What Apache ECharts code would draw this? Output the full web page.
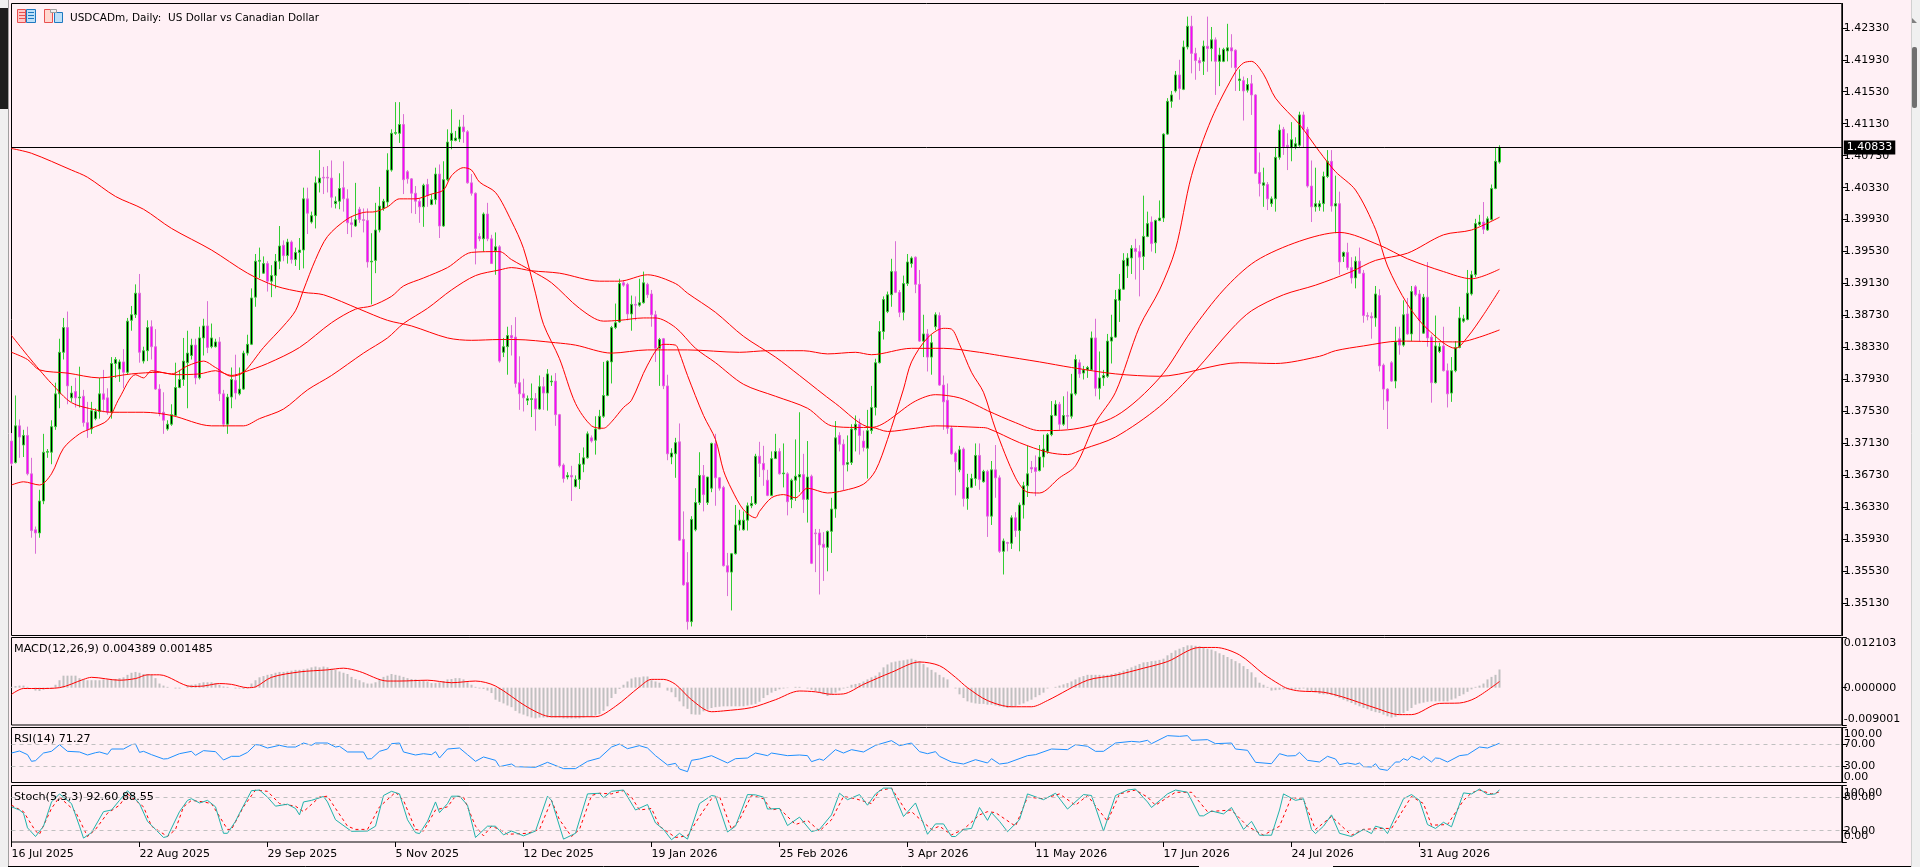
<!DOCTYPE html>
<html><head><meta charset="utf-8">
<style>html,body{margin:0;padding:0;background:#FFF0F5;overflow:hidden}#c{width:1920px;height:867px}</style>
<script src="https://cdn.jsdelivr.net/npm/echarts@6/dist/echarts.min.js"></script>
</head><body><div id="c"></div>
<script>
// Values. Prices are stored in units of 0.0001.
const dateLabels=['16 Jul 2025','22 Aug 2025','29 Sep 2025','5 Nov 2025','12 Dec 2025','19 Jan 2026','25 Feb 2026','3 Apr 2026','11 May 2026','17 Jun 2026','24 Jul 2026','31 Aug 2026'];
const priceTicks=[1.3513,1.3553,1.3593,1.3633,1.3673,1.3713,1.3753,1.3793,1.3833,1.3873,1.3913,1.3953,1.3993,1.4033,1.4073,1.4113,1.4153,1.4193,1.4233];
const macdTicks=[-0.009001,0,0.012103];
const rangeTicks=[0,100];
const rsiLevels=[30,70];
const stochLevels=[20,80];
const lastPrice=1.40833;
// open, close, low, high
const candles=[
[13716,13688,13685,13726],[13689,13735,13688,13773],[13735,13721,13695,13743],[13711,13723,13696,13730],[13723,13675,13673,13734],[13675,13604,13595,13695],[13605,13601,13575,13609],[13601,13641,13595,13655],[13641,13702,13637,13725],[13702,13703,13695,13706],
[13702,13734,13687,13742],[13734,13775,13730,13789],[13775,13827,13757,13844],[13827,13858,13818,13870],[13858,13785,13762,13878],[13770,13776,13765,13785],[13778,13770,13758,13795],[13770,13771,13758,13809],[13772,13739,13734,13780],[13739,13730,13720,13765],
[13731,13754,13725,13765],[13744,13753,13742,13757],[13753,13775,13744,13795],[13775,13768,13752,13805],[13770,13752,13749,13782],[13752,13813,13744,13821],[13813,13818,13795,13821],[13806,13815,13790,13818],[13815,13802,13782,13831],[13802,13866,13799,13870],
[13867,13874,13854,13885],[13874,13901,13870,13912],[13901,13827,13814,13925],[13816,13829,13813,13834],[13829,13858,13816,13867],[13859,13834,13818,13867],[13834,13781,13780,13856],[13781,13751,13747,13787],[13752,13742,13725,13777],[13731,13737,13729,13742],
[13737,13749,13735,13762],[13748,13783,13747,13814],[13783,13793,13782,13805],[13793,13816,13785,13845],[13814,13826,13757,13854],[13823,13836,13818,13844],[13836,13795,13787,13844],[13795,13845,13793,13859],[13845,13860,13823,13869],[13860,13833,13826,13891],
[13834,13845,13832,13863],[13834,13840,13833,13844],[13840,13775,13766,13846],[13775,13737,13734,13780],[13737,13771,13725,13775],[13771,13793,13757,13808],[13792,13776,13768,13824],[13775,13781,13773,13808],[13781,13826,13780,13829],[13826,13837,13823,13849],
[13837,13895,13836,13907],[13896,13941,13884,13950],[13941,13942,13920,13958],[13926,13938,13925,13947],[13938,13916,13903,13941],[13916,13923,13896,13936],[13923,13941,13907,13950],[13941,13960,13931,13985],[13961,13948,13941,13967],[13948,13965,13938,13969],
[13965,13943,13938,13967],[13943,13952,13935,13958],[13952,13955,13930,13970],[13955,14019,13932,14033],[14019,14001,13975,14033],[13990,13998,13988,14003],[13998,14039,13982,14047],[14039,14045,14027,14080],[14046,14045,14025,14059],[14046,14045,14027,14060],
[14045,14021,14008,14067],[14013,14016,14007,14022],[14016,14032,14006,14051],[14033,14019,14003,14066],[14019,13989,13975,14031],[13989,13987,13971,13997],[13985,13993,13984,14039],[14006,13993,13989,14009],[13993,13992,13977,14007],[13992,13940,13933,14007],
[13940,13941,13887,13976],[13942,13980,13926,14014],[13980,14010,13977,14034],[14007,14016,14004,14019],[14015,14055,14009,14076],[14055,14101,14053,14106],[14101,14102,14099,14140],[14101,14112,14089,14140],[14112,14043,14025,14125],[14053,14044,14038,14055],
[14044,14026,14001,14045],[14026,14016,14000,14035],[14016,14009,13989,14020],[14009,14036,13984,14038],[14037,14023,14009,14044],[14012,14018,14011,14025],[14018,14050,14012,14058],[14050,13985,13970,14062],[13985,14043,13984,14066],[14043,14090,14041,14106],
[14092,14101,14081,14131],[14092,14095,14091,14104],[14094,14109,14090,14118],[14109,14103,14089,14124],[14103,14039,14038,14105],[14039,14026,14023,14050],[14026,13957,13937,14027],[13972,13969,13966,13976],[13969,14000,13953,14002],[14000,13969,13966,14014],
[13969,13938,13938,13974],[13954,13959,13924,13977],[13959,13816,13814,13961],[13827,13834,13821,13845],[13834,13848,13799,13859],[13848,13845,13823,13861],[13846,13788,13783,13871],[13789,13775,13755,13822],[13775,13770,13753,13794],[13767,13769,13761,13773],
[13768,13769,13746,13788],[13769,13756,13729,13776],[13756,13784,13755,13798],[13784,13776,13755,13796],[13776,13800,13754,13806],[13790,13791,13785,13798],[13791,13749,13735,13801],[13749,13685,13683,13750],[13686,13669,13664,13688],[13671,13673,13668,13677],
[13673,13671,13641,13685],[13659,13668,13658,13673],[13668,13687,13656,13701],[13687,13695,13677,13708],[13695,13725,13694,13728],[13720,13716,13714,13723],[13717,13731,13699,13747],[13731,13747,13731,13755],[13747,13773,13745,13815],[13773,13816,13772,13817],
[13815,13858,13788,13860],[13858,13864,13856,13888],[13865,13913,13864,13919],[13914,13911,13909,13917],[13912,13875,13867,13914],[13875,13887,13854,13898],[13887,13886,13867,13897],[13886,13889,13884,13919],[13889,13914,13888,13928],[13912,13899,13895,13914],
[13900,13874,13859,13905],[13874,13832,13815,13879],[13832,13843,13785,13845],[13844,13785,13781,13845],[13785,13700,13692,13799],[13696,13701,13687,13707],[13700,13714,13670,13720],[13715,13592,13591,13738],[13593,13536,13535,13628],[13539,13490,13480,13577],
[13490,13618,13484,13622],[13605,13639,13603,13657],[13639,13673,13636,13702],[13673,13649,13628,13686],[13639,13671,13636,13671],[13657,13713,13652,13714],[13713,13670,13635,13725],[13670,13657,13654,13671],[13658,13560,13559,13660],[13560,13552,13522,13576],
[13552,13575,13504,13576],[13575,13611,13574,13636],[13611,13617,13604,13630],[13605,13617,13604,13628],[13617,13635,13604,13639],[13635,13638,13632,13647],[13638,13697,13636,13700],[13697,13688,13671,13715],[13688,13680,13660,13710],[13667,13648,13647,13680],
[13648,13694,13647,13703],[13694,13703,13694,13725],[13703,13675,13674,13707],[13675,13676,13658,13713],[13675,13640,13623,13677],[13643,13667,13632,13669],[13667,13672,13641,13718],[13671,13674,13652,13752],[13674,13643,13626,13700],[13643,13671,13614,13716],
[13672,13563,13562,13674],[13601,13600,13552,13606],[13601,13586,13524,13606],[13587,13583,13541,13602],[13583,13603,13553,13604],[13603,13631,13576,13645],[13631,13720,13620,13741],[13723,13712,13703,13727],[13712,13686,13654,13718],[13687,13689,13678,13723],
[13689,13731,13686,13737],[13730,13737,13703,13748],[13737,13723,13699,13744],[13716,13708,13703,13729],[13707,13729,13669,13755],[13729,13758,13725,13785],[13758,13814,13748,13819],[13814,13853,13813,13866],[13853,13893,13843,13897],[13878,13899,13876,13903],
[13899,13928,13884,13944],[13928,13902,13901,13966],[13902,13877,13871,13905],[13877,13913,13867,13923],[13913,13940,13910,13950],[13938,13945,13933,13947],[13946,13912,13901,13947],[13912,13841,13840,13930],[13841,13850,13821,13874],[13850,13821,13803,13856],
[13821,13839,13799,13849],[13859,13874,13855,13877],[13873,13786,13785,13877],[13786,13765,13730,13798],[13767,13732,13725,13788],[13732,13700,13699,13735],[13701,13690,13648,13703],[13680,13705,13677,13710],[13706,13644,13634,13708],[13644,13658,13630,13675],
[13658,13669,13657,13675],[13669,13698,13660,13713],[13698,13668,13655,13713],[13665,13678,13664,13680],[13678,13622,13596,13680],[13622,13680,13611,13691],[13680,13670,13645,13711],[13670,13578,13576,13673],[13578,13591,13549,13594],[13589,13588,13578,13590],
[13588,13620,13581,13623],[13620,13604,13596,13627],[13604,13636,13578,13639],[13636,13660,13619,13665],[13660,13675,13646,13710],[13683,13681,13676,13691],[13683,13678,13647,13698],[13679,13696,13678,13711],[13696,13706,13683,13724],[13703,13724,13700,13726],
[13724,13748,13722,13766],[13748,13762,13747,13767],[13762,13737,13730,13765],[13737,13748,13735,13772],[13748,13747,13731,13778],[13747,13775,13744,13800],[13775,13818,13773,13824],[13814,13800,13795,13818],[13801,13805,13793,13810],[13805,13808,13795,13810],
[13805,13845,13804,13853],[13845,13782,13772,13869],[13782,13795,13768,13828],[13795,13798,13785,13805],[13797,13841,13795,13850],[13841,13846,13813,13874],[13846,13893,13845,13905],[13892,13906,13865,13925],[13906,13942,13905,13951],[13935,13945,13920,13951],
[13945,13957,13925,13961],[13957,13953,13918,13969],[13953,13946,13897,13961],[13947,13972,13930,14023],[13972,13988,13971,14003],[13990,13963,13953,13997],[13964,13992,13951,13993],[13992,13995,13991,14017],[13995,14100,13990,14101],[14100,14141,14099,14145],
[14141,14149,14133,14154],[14154,14174,14152,14179],[14174,14157,14143,14193],[14156,14209,14155,14217],[14209,14235,14206,14247],[14235,14201,14176,14248],[14201,14192,14168,14208],[14192,14189,14179,14196],[14191,14210,14174,14217],[14210,14207,14178,14247],
[14207,14218,14191,14234],[14218,14191,14149,14221],[14191,14199,14160,14208],[14191,14206,14190,14208],[14204,14208,14191,14238],[14208,14204,14183,14225],[14205,14183,14154,14206],[14167,14169,14154,14181],[14167,14154,14117,14172],[14155,14162,14152,14170],
[14163,14149,14124,14174],[14149,14051,14050,14150],[14052,14038,14022,14077],[14036,14039,14009,14058],[14037,14019,14005,14040],[14013,14019,14009,14022],[14019,14071,14003,14084],[14071,14105,14068,14112],[14106,14084,14074,14109],[14086,14084,14055,14101],
[14083,14093,14066,14115],[14084,14088,14081,14096],[14086,14124,14084,14128],[14124,14106,14083,14128],[14106,14035,14033,14109],[14035,14009,13990,14067],[14009,14013,14003,14058],[14009,14013,14004,14017],[14013,14047,14003,14053],[14047,14066,14045,14080],
[14066,14010,14003,14080],[14010,14013,13976,14048],[14013,13940,13924,14028],[13947,13952,13940,13953],[13952,13933,13930,13964],[13933,13920,13913,13946],[13920,13941,13907,13947],[13941,13926,13925,13958],[13926,13873,13864,13930],[13873,13872,13867,13877],
[13872,13870,13844,13877],[13870,13900,13859,13910],[13898,13810,13803,13906],[13811,13781,13755,13813],[13781,13766,13731,13782],[13814,13791,13790,13816],[13791,13840,13782,13859],[13844,13836,13824,13859],[13836,13874,13834,13892],[13875,13850,13849,13895],
[13850,13903,13841,13910],[13909,13899,13897,13911],[13900,13867,13841,13905],[13851,13896,13850,13900],[13896,13845,13834,13940],[13846,13789,13764,13849],[13789,13835,13788,13873],[13828,13834,13826,13839],[13835,13804,13803,13859],[13804,13775,13758,13813],
[13776,13804,13765,13821],[13804,13833,13802,13841],[13833,13870,13832,13884],[13866,13869,13864,13874],[13868,13901,13867,13930],[13900,13924,13898,13929],[13924,13988,13921,13994],[13987,13990,13985,13999],[13990,13981,13975,14015],[13980,13994,13979,13997],
[13993,14032,13992,14037],[14032,14066,14031,14083],[14065,14083.3,14063,14086]];
// moving averages as [bar, price] readings
const maFast=[[0,13661],[3,13665],[7,13661],[10,13675],[13,13707],[17,13725],[20,13732],[24,13742],[27,13770],[31,13799],[33,13795],[35,13804],[40,13800],[44,13810],[48,13816],[51,13808],[55,13797],[58,13802],[63,13833],[68,13860],[71,13879],[73,13905],[76,13943],[79,13972],[84,13994],[88,14002],[91,14003],[94,14009],[97,14019],[101,14019],[105,14025],[108,14030],[110,14048],[113,14058],[115,14055],[117,14040],[121,14027],[125,13991],[128,13957],[131,13901],[133,13862],[137,13819],[141,13763],[145,13735],[148,13732],[150,13740],[153,13758],[155,13767],[159,13811],[163,13837],[166,13836],[167,13826],[169,13798],[173,13748],[176,13718],[178,13679],[180,13656],[183,13630],[186,13620],[187,13628],[190,13645],[193,13649],[196,13645],[199,13657],[204,13651],[208,13654],[213,13662],[216,13679],[219,13718],[223,13781],[225,13815],[229,13845],[233,13857],[235,13856],[237,13837],[240,13802],[243,13777],[246,13731],[251,13670],[254,13652],[257,13651],[262,13670],[266,13685],[271,13739],[276,13777],[282,13859],[287,13905],[291,13956],[295,14048],[300,14119],[306,14178],[308,14189],[310,14191],[313,14175],[316,14145],[322,14112],[327,14078],[331,14053],[336,14030],[341,13981],[344,13935],[349,13887],[354,13856],[361,13832],[364,13846],[368,13874],[372,13905]];
const maMid=[[0,13848],[4,13823],[7,13805],[10,13788],[15,13764],[21,13755],[25,13752],[33,13752],[40,13748],[50,13735],[58,13735],[62,13744],[68,13756],[74,13780],[80,13798],[88,13826],[94,13845],[98,13863],[104,13882],[110,13905],[116,13923],[122,13930],[125,13933],[130,13929],[137,13926],[147,13916],[152,13916],[159,13924],[166,13913],[169,13901],[176,13877],[183,13847],[191,13821],[197,13798],[206,13763],[215,13733],[226,13766],[231,13774],[237,13770],[242,13759],[244,13754],[251,13739],[257,13729],[264,13730],[276,13747],[287,13795],[295,13854],[303,13905],[311,13941],[322,13966],[332,13977],[342,13961],[349,13944],[358,13928],[365,13919],[372,13931]];
const maSlow=[[0,13827],[4,13818],[7,13805],[14,13801],[22,13795],[30,13800],[37,13802],[41,13799],[47,13800],[51,13804],[55,13798],[58,13802],[64,13813],[72,13833],[80,13864],[86,13881],[90,13885],[95,13897],[98,13910],[103,13920],[109,13933],[115,13952],[122,13953],[125,13943],[130,13929],[135,13914],[142,13882],[148,13866],[152,13867],[158,13870],[161,13870],[166,13858],[171,13832],[176,13814],[183,13787],[191,13772],[199,13757],[205,13735],[211,13733],[215,13733],[219,13728],[226,13732],[231,13735],[242,13733],[244,13732],[252,13714],[259,13702],[264,13699],[268,13706],[276,13721],[287,13759],[296,13804],[305,13856],[310,13879],[318,13899],[326,13911],[335,13928],[341,13942],[349,13951],[358,13974],[365,13980],[372,13996]];
const maLong=[[0,14082],[5,14076],[15,14055],[19,14046],[26,14022],[33,14006],[40,13982],[50,13955],[59,13926],[66,13910],[73,13902],[78,13899],[87,13881],[94,13867],[100,13860],[109,13845],[115,13842],[122,13843],[126,13843],[136,13839],[141,13836],[150,13826],[159,13830],[169,13830],[182,13827],[189,13829],[198,13829],[204,13825],[211,13827],[215,13824],[225,13832],[233,13832],[242,13827],[247,13823],[257,13815],[265,13808],[276,13800],[287,13797],[307,13814],[316,13813],[327,13822],[331,13829],[338,13835],[347,13841],[362,13840],[367,13846],[372,13855]];
// MACD histogram per bar, units of 0.0001
const macdHist=[2,4,5,5,2,0,-7,-8,-5,-3,-2,7,18,29,29,29,29,23,20,18,18,18,18,20,20,20,21,23,25,31,36,38,36,33,33,31,23,10,5,2,0,-2,-2,0,5,7,8,11,13,13,13,11,7,3,2,0,-2,-2,-3,-2,10,18,25,28,31,33,36,38,38,39,41,43,43,44,46,49,51,49,51,49,46,43,39,36,33,26,21,18,13,10,10,13,21,26,29,33,31,29,26,23,21,20,18,16,15,11,11,13,16,20,21,23,23,20,13,7,2,-2,-3,-7,-13,-29,-34,-38,-43,-47,-56,-62,-65,-69,-72,-74,-72,-72,-72,-72,-72,-72,-74,-74,-74,-74,-74,-72,-70,-69,-67,-64,-56,-45,-25,-15,-3,7,15,22,25,25,27,27,18,15,12,0,-7,-11,-23,-33,-45,-51,-64,-65,-65,-57,-53,-49,-47,-46,-45,-45,-45,-45,-45,-45,-43,-41,-39,-34,-25,-18,-12,-8,-4,-2,-1,0,2,2,0,-2,-5,-8,-12,-16,-20,-16,-12,-7,-2,2,7,9,11,15,20,25,29,37,49,56,61,63,65,66,68,70,67,64,57,49,43,37,31,25,20,0,-2,-16,-25,-33,-36,-38,-39,-39,-41,-41,-43,-45,-47,-49,-47,-44,-41,-38,-33,-29,-23,-18,-12,-2,0,2,5,8,11,15,20,25,28,31,31,31,31,31,31,33,35,38,41,45,49,53,57,61,62,64,65,67,70,78,84,90,94,98,102,102,101,100,98,94,92,88,83,79,74,69,64,59,52,45,37,25,12,7,2,-7,-6,-5,-4,-4,-4,-4,-4,-2,-7,-8,-11,-15,-16,-16,-18,-21,-25,-29,-33,-37,-41,-45,-49,-52,-56,-59,-61,-65,-69,-72,-70,-65,-61,-56,-49,-41,-38,-36,-34,-33,-33,-33,-33,-33,-29,-26,-20,-16,-10,-4,2,5,10,20,26,31,43.89];
const macdSignal=[[0,-16],[3,-2],[7,-2],[12,0],[18,20],[20,25],[27,18],[31,22],[34,31],[37,31],[45,3],[48,4],[52,10],[55,8],[59,0],[61,2],[65,25],[72,38],[79,43],[83,47],[87,39],[94,16],[97,16],[104,18],[110,12],[116,16],[121,4],[129,-47],[135,-70],[146,-70],[151,-45],[157,2],[160,20],[163,20],[166,8],[170,-29],[175,-58],[178,-56],[185,-48],[191,-29],[197,-8],[201,-10],[205,-16],[208,-15],[213,8],[220,37],[227,62],[232,53],[236,25],[239,0],[244,-31],[250,-46],[255,-46],[259,-31],[269,18],[276,30],[283,47],[289,63],[297,97],[301,97],[307,79],[313,33],[317,8],[319,-2],[322,-8],[328,-11],[333,-23],[341,-49],[347,-65],[350,-65],[357,-38],[362,-37],[366,-25],[372,14.85]];
const rsiLine=[[0,53.6],[2,57.3],[4,50.6],[5,38.5],[6,39.7],[8,53.6],[10,56.7],[12,68.8],[14,56.7],[17,55.5],[19,50],[21,54.2],[22,55.5],[24,51.2],[25,60.9],[28,60.9],[30,68.8],[31,70],[32,54.8],[33,56.7],[35,50.6],[38,42.7],[39,43.3],[42,52.4],[45,56.7],[46,49.4],[48,57.9],[51,56.1],[53,40.9],[55,47.6],[57,47.6],[59,54.8],[61,68.8],[62,68.2],[64,62.7],[67,67.6],[69,64.5],[71,64.5],[73,71.8],[75,67.6],[76,71.8],[79,71.8],[81,64.5],[82,65.8],[84,55.5],[88,55.5],[89,42.7],[90,43.3],[92,56.7],[94,60.9],[95,70.6],[97,71.8],[98,55.5],[101,50],[103,52.4],[105,50.6],[106,56.1],[107,44.5],[109,60.9],[112,62.7],[114,50.6],[116,38.5],[118,46.4],[121,40.3],[122,28.8],[125,33.6],[126,28.8],[131,27.6],[134,36.7],[138,25.2],[141,25.2],[144,38.5],[147,44.5],[150,64.5],[152,70],[154,61.5],[157,67],[159,62.7],[161,48.8],[164,31.8],[166,34.8],[167,24.5],[169,19.7],[170,40.3],[172,42.7],[175,48.8],[179,35.5],[181,43.3],[184,44.5],[186,53.6],[189,48.8],[190,53.6],[194,48.8],[197,50],[199,48.8],[200,37.9],[202,42.7],[203,40.3],[206,59.7],[208,53.6],[210,59.7],[213,55.5],[216,67.6],[220,76.1],[222,67],[225,71.8],[227,56.1],[229,52.4],[231,56.1],[232,47.6],[235,37.3],[238,33.6],[241,41.5],[244,35.5],[245,43.3],[247,33.6],[249,35.5],[254,48.8],[256,50.6],[260,60.9],[264,59.7],[266,68.8],[269,65.8],[271,56.7],[273,56.7],[276,71.8],[280,74.8],[282,73.6],[284,76.7],[285,70.6],[289,85.2],[292,83.9],[294,85.2],[295,76.7],[299,77.9],[301,70.6],[305,71.8],[306,60.9],[309,58.5],[311,36.7],[315,34.2],[317,52.4],[319,48.2],[321,48.8],[322,54.8],[324,40.3],[327,37.3],[329,47.6],[331,42.7],[332,32.4],[334,35.5],[336,33],[337,35.5],[338,28.8],[340,28.2],[341,34.2],[342,24.5],[344,22.1],[346,37.3],[347,37.3],[348,43.3],[349,40.3],[350,47.6],[352,41.5],[353,47.6],[355,37.3],[356,44.5],[357,43.9],[359,37.3],[362,48.8],[364,50.6],[367,64.5],[369,62.7],[372,71.27]];
const stochMain=[[0,62.3],[2,56.6],[3,50.9],[4,25.1],[6,9.7],[8,28],[10,70.9],[12,85.1],[15,68],[17,28],[18,6.9],[20,16.6],[23,53.7],[25,56.6],[27,73.7],[29,90.9],[32,68],[34,36.6],[36,22.3],[38,8],[39,9.7],[42,53.7],[44,73.7],[45,76.6],[47,69.1],[49,73.7],[51,62.3],[53,15.4],[54,15.4],[56,36.6],[57,50.9],[60,90.9],[62,92],[64,79.4],[66,63.4],[69,66.9],[71,59.4],[72,48],[73,70.9],[75,73.7],[78,80.6],[79,70.9],[81,39.4],[85,18.9],[89,19.4],[91,28],[93,82.3],[95,89.7],[97,85.1],[99,39.4],[101,16.6],[102,14.9],[104,36.6],[106,70.9],[107,52],[109,68],[110,81.1],[112,81.1],[114,65.1],[116,8],[119,28],[121,28],[123,12.6],[125,19.4],[128,10.9],[131,19.4],[134,81.1],[135,73.7],[138,5.1],[141,15.4],[144,85.1],[147,86.3],[148,78.3],[150,89.7],[153,92],[156,56.6],[159,66.3],[161,33.7],[163,22.3],[165,4],[167,15.4],[169,5.1],[172,68],[175,82.3],[176,81.1],[179,17.7],[181,28],[184,84],[186,83.4],[188,79.4],[189,58.3],[192,59.4],[194,29.1],[197,44],[200,18.3],[202,22.3],[205,48],[207,86.3],[209,74.9],[212,84],[214,65.1],[216,85.1],[218,95.4],[220,95.4],[223,45.1],[226,69.1],[229,13.7],[231,32],[233,32],[235,9.7],[236,9.7],[238,22.3],[240,24],[242,61.1],[244,38.3],[245,52],[247,36.6],[249,18.3],[252,39.4],[254,85.1],[258,74.9],[261,86.3],[264,58.3],[268,84],[270,82.3],[273,19.4],[276,82.3],[279,92],[281,93.7],[284,70.9],[285,61.1],[289,85.1],[291,92],[294,88],[297,46.3],[298,46.3],[300,54.9],[303,49.7],[305,61.1],[308,22.3],[310,36.6],[312,12],[315,12],[317,56.6],[318,85.1],[321,73.7],[323,76.6],[325,22.3],[326,14.9],[328,28],[330,48],[332,15.4],[335,9.7],[338,22.3],[340,14.9],[341,28],[343,24],[344,14.9],[348,76.6],[350,84],[352,73.7],[354,30.9],[356,24],[358,34.9],[360,26.9],[363,86.9],[365,85.1],[367,93.7],[369,84],[371,85.1],[372,92.6]];
const stochSignal=[[0,65.1],[3,53.7],[6,19.4],[7,13.7],[10,59.4],[12,79.4],[16,53.7],[19,9.7],[21,22.3],[24,50.9],[27,65.1],[29,85.1],[33,62.3],[35,28],[39,9.7],[41,22.3],[43,62.3],[45,73.7],[48,70.9],[50,68],[54,22.3],[55,22.3],[58,62.3],[61,92],[64,89.7],[67,68],[71,63.4],[73,53.7],[77,79.4],[79,81.1],[81,59.4],[84,28],[86,22.3],[89,22.3],[92,62.3],[96,88],[98,73.7],[101,22.3],[103,19.4],[106,56.6],[109,62.3],[111,81.1],[113,79.4],[116,28],[118,10.9],[120,28],[122,22.3],[124,13.7],[129,15.4],[132,22.3],[135,73.7],[137,39.4],[140,9.7],[142,22.3],[145,82.3],[147,86.3],[150,85.1],[153,90.9],[155,79.4],[157,56.6],[160,59.4],[162,28],[166,8],[169,10.9],[172,45.1],[175,76.6],[177,80.6],[180,22.3],[182,39.4],[185,82.3],[188,76.6],[190,56.6],[192,59.4],[196,30.9],[199,38.3],[202,19.4],[205,39.4],[208,80.6],[211,76.6],[215,68],[217,90.9],[220,95.4],[224,50.9],[225,53.7],[230,22.3],[232,28],[235,12.6],[238,22.3],[242,48],[244,53.7],[246,52],[251,28],[254,79.4],[258,76.6],[262,85.1],[266,65.1],[269,82.3],[274,36.6],[277,85.1],[281,92],[284,79.4],[286,65.1],[291,88],[295,88],[299,53.7],[305,56.6],[309,28],[313,12],[317,28],[320,79.4],[323,74.9],[326,22.3],[329,39.4],[330,45.1],[335,12],[338,22.3],[342,24],[345,24],[350,80.6],[353,68],[355,29.7],[359,30.9],[363,73.7],[365,86.9],[367,92],[370,85.1],[372,88.55]];

const pips=v=>v/10000;
const asPrice=rows=>rows.map(r=>[r[0],pips(r[1])]);
const FONT='"DejaVu Sans"';
const PINK='#FFF0F5';
const gridLeft=11.5, gridW=1830.3, xMax=gridW/4;
const grids=[
 {left:gridLeft,width:gridW,top:3.5,height:632},
 {left:gridLeft,width:gridW,top:637.5,height:87.5},
 {left:gridLeft,width:gridW,top:727.5,height:55},
 {left:gridLeft,width:gridW,top:785.5,height:56.5}
].map(g=>Object.assign({show:true,backgroundColor:PINK,borderColor:'#000',borderWidth:1,containLabel:false},g));
const xTickVals=dateLabels.map((d,i)=>i*32);
const xAxes=grids.map((g,i)=>{
  const last=i===3;
  return {type:'value',gridIndex:i,min:0,max:xMax,splitLine:{show:false},
   axisLine:{show:false},
   axisTick:{show:last,customValues:xTickVals,length:5,lineStyle:{color:'#000'}},
   axisLabel:{show:last,customValues:xTickVals,formatter:v=>dateLabels[Math.round(v/32)]||'',align:'left',margin:7,color:'#000',fontFamily:FONT,fontSize:11,hideOverlap:false}};
});
function yAxis(idx,min,max,ticks,fmt,opt){
  opt=opt||{};
  return {type:'value',gridIndex:idx,position:'right',min:min,max:max,scale:true,splitLine:{show:false},
   axisLine:{show:!opt.noLine,onZero:false,lineStyle:{color:'#000'}},
   axisTick:{show:true,customValues:ticks,length:5,lineStyle:{color:'#000'}},
   axisLabel:Object.assign({customValues:ticks,formatter:fmt,margin:2,color:'#000',fontFamily:FONT,fontSize:11,hideOverlap:false,showMinLabel:true,showMaxLabel:true,padding:opt.pad||0},opt.edge?{verticalAlignMinLabel:'bottom',verticalAlignMaxLabel:'top'}:{})};
}
const fix2=v=>v.toFixed(2);
const yAxes=[
 yAxis(0,1.34727,1.42634,priceTicks,v=>v.toFixed(5)),
 yAxis(1,-0.009001,0.012103,macdTicks,v=>v.toFixed(6),{edge:true}),
 yAxis(2,0,100,rangeTicks,fix2,{edge:true,pad:[1,0,0,0]}),
 yAxis(3,0,100,rangeTicks,fix2,{edge:true,pad:[2,0,0,0]}),
 yAxis(2,0,100,rsiLevels,fix2,{noLine:true}),
 yAxis(3,0,100,stochLevels,fix2,{noLine:true})
];
const lineSeries=(name,x,data,color,extra)=>Object.assign({name,type:'line',xAxisIndex:x,yAxisIndex:x,data,showSymbol:false,symbol:'none',smooth:false,animation:false,silent:true,lineStyle:{color,width:1}},extra||{});
const levels=vals=>({silent:true,symbol:'none',animation:false,label:{show:false},lineStyle:{color:'#C0C0C0',type:[4,4],width:1},data:vals.map(v=>({yAxis:v}))});
const soft={smooth:0.3};
const series=[
 {name:'USDCADm',type:'candlestick',xAxisIndex:0,yAxisIndex:0,barWidth:2,animation:false,silent:true,
  data:candles.map((c,i)=>[i,pips(c[0]),pips(c[1]),pips(c[2]),pips(c[3])]),
  itemStyle:{color:'#000000',color0:'#FF00FF',borderColor:'#32CD32',borderColor0:'#DA70D6',borderWidth:1},
  markLine:{silent:true,symbol:'none',animation:false,z:5,precision:5,lineStyle:{color:'#000',width:1,type:'solid'},
   label:{show:true,position:'end',distance:2,formatter:lastPrice.toFixed(5),backgroundColor:'#000',color:'#fff',fontFamily:FONT,fontSize:11,padding:[2,3,1,3]},
   data:[{yAxis:lastPrice}]}},
 lineSeries('MA long',0,asPrice(maLong),'#FF0000',soft),
 lineSeries('MA slow',0,asPrice(maSlow),'#FF0000',soft),
 lineSeries('MA mid',0,asPrice(maMid),'#FF0000',soft),
 lineSeries('MA fast',0,asPrice(maFast),'#FF0000',soft),
 {name:'MACD',type:'bar',xAxisIndex:1,yAxisIndex:1,barWidth:2,animation:false,silent:true,
  data:macdHist.map((v,i)=>[i,pips(v)]),itemStyle:{color:'#C0C0C0'}},
 lineSeries('Signal',1,asPrice(macdSignal),'#FF0000',{z:4,smooth:0.3}),
 lineSeries('RSI',2,rsiLine,'#1E90FF',{markLine:levels(rsiLevels)}),
 lineSeries('Stoch signal',3,stochSignal,'#FF0000',{lineStyle:{color:'#FF0000',width:1,type:[3,3]},markLine:levels(stochLevels)}),
 lineSeries('Stoch main',3,stochMain,'#20B2AA')
];
const note=(text,left,top,size,bg)=>({text,left,top,padding:0,textStyle:{color:'#000',fontFamily:FONT,fontSize:size,fontWeight:'normal',lineHeight:13,backgroundColor:bg?PINK:'transparent'},z:20});
const title=[
 note('USDCADm, Daily:  US Dollar vs Canadian Dollar',70,12,10.5),
 note('MACD(12,26,9) 0.004389 0.001485',14,643,11.2),
 note('RSI(14) 71.27',14,733,11.2),
 note('Stoch(5,3,3) 92.60 88.55',14,791,11.2,true)
];
const rect=(x,y,w,h,fill,stroke)=>({type:'rect',silent:true,z:30,shape:{x,y,width:w,height:h},style:{fill,stroke:stroke||null,lineWidth:1}});
const graphic=[
 {type:'rect',silent:true,z:-10,shape:{x:0,y:0,width:8.5,height:867},style:{fill:'#F0F0F0'}},
 {type:'rect',silent:true,z:-10,shape:{x:1911.5,y:0,width:8.5,height:867},style:{fill:'#F0F0F0'}},
 {type:'rect',silent:true,z:-10,shape:{x:0,y:8,width:8,height:101},style:{fill:'#1E1E1E'}},
 {type:'rect',silent:true,z:-10,shape:{x:1912,y:47,width:5,height:61,r:2},style:{fill:'#707070'}},
 {type:'polygon',silent:true,z:-10,shape:{points:[[1912,23],[1917,23],[1912,18]]},style:{fill:'#808080'}},
 {type:'line',silent:true,z:-9,shape:{x1:8.5,y1:0,x2:8.5,y2:867},style:{stroke:'#A0A0A0',lineWidth:1}},
 {type:'line',silent:true,z:-9,shape:{x1:1911.5,y1:0,x2:1911.5,y2:867},style:{stroke:'#D0D0D0',lineWidth:1}},
 {type:'line',silent:true,z:-9,shape:{x1:8,y1:866.5,x2:1199,y2:866.5},style:{stroke:'#000',lineWidth:1}},
 {type:'line',silent:true,z:-9,shape:{x1:1333,y1:866.5,x2:1911,y2:866.5},style:{stroke:'#000',lineWidth:1}},
 // toolbar icons
 rect(17.5,9.5,8,13,'#FFC8C8','#E85050'),rect(26.5,9.5,9,13,'#BEE0F8','#1E78C0'),
 rect(19,12,6,1,'#E85050'),rect(19,15,6,1,'#E85050'),rect(19,18,6,1,'#E85050'),
 rect(28,12,6,1,'#1E78C0'),rect(28,15,6,1,'#1E78C0'),rect(28,18,6,1,'#1E78C0'),
 rect(44.5,9.5,8,13,'#FFD8D0','#E85050'),rect(54.5,12.5,8,10,'#BEE0F8','#1E78C0'),
 rect(50.5,9.5,6,3,'#F0F0F0','#A0A0A0')
];
const chart=echarts.init(document.getElementById('c'),null,{renderer:'canvas',width:1920,height:867});
chart.setOption({animation:false,backgroundColor:PINK,tooltip:{show:false},legend:{show:false},title,graphic,grid:grids,xAxis:xAxes,yAxis:yAxes,series});
</script></body></html>
